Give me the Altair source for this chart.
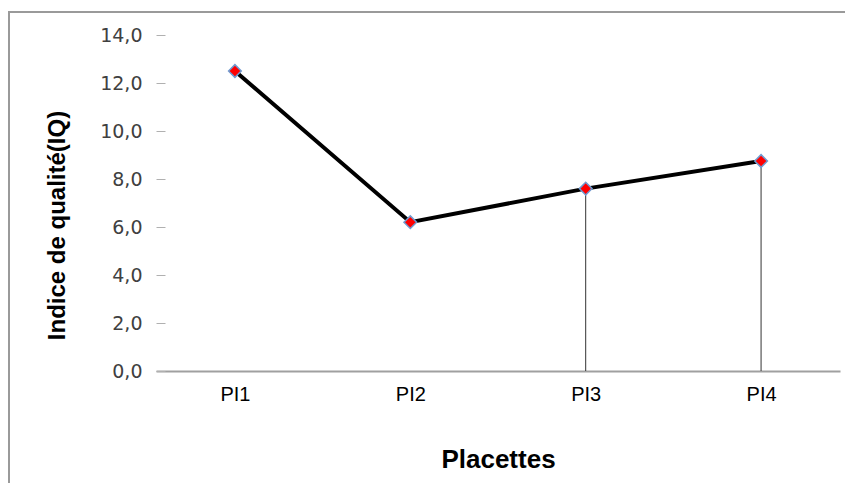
import altair as alt
import pandas as pd

categories = ["PI1", "PI2", "PI3", "PI4"]
values = [12.5, 6.2, 7.6, 8.75]
drop_categories = ["PI3", "PI4"]

df = pd.DataFrame({"cat": categories, "val": values})
df_drop = df[df["cat"].isin(drop_categories)]

FONT = "Liberation Sans"

x_enc = alt.X(
    "cat:N",
    sort=categories,
    scale=alt.Scale(type="point", padding=0.45),
    axis=alt.Axis(
        title="Placettes",
        titleFont=FONT,
        titleFontSize=26,
        titleFontWeight="bold",
        titleColor="#000000",
        titlePadding=42,
        labelFont=FONT,
        labelFontSize=20,
        labelColor="#000000",
        labelPadding=13,
        labelAngle=0,
        ticks=False,
        domainColor="#a0a0a0",
        domainWidth=2,
        grid=False,
    ),
)

y_scale = alt.Scale(domain=[0, 14], nice=False)
y_axis = alt.Axis(
    title="Indice de qualité(IQ)",
    titleFont=FONT,
    titleFontSize=24,
    titleFontWeight="bold",
    titleColor="#000000",
    titleAngle=-90,
    titleAlign="center",
    titleBaseline="middle",
    titleX=-108,
    titleY=190,
    values=[0, 2, 4, 6, 8, 10, 12, 14],
    labelExpr="replace(format(datum.value, '.1f'), '.', ',')",
    labelFont="DejaVu Sans",
    labelFontSize=19,
    labelColor="#404040",
    labelPadding=14,
    tickSize=9,
    tickColor="#b0b0b0",
    tickWidth=1,
    offset=-9,
    domain=False,
    grid=False,
)

border = alt.Chart(pd.DataFrame({"a": [0]})).mark_rect(
    fill=None, stroke="#9a9a9a", strokeWidth=2
).encode(
    x=alt.value(-147), x2=alt.value(720), y=alt.value(-23), y2=alt.value(470)
)

drops = alt.Chart(df_drop).mark_rule(color="#333333", strokeWidth=1).encode(
    x=x_enc,
    y=alt.Y("val:Q", scale=y_scale, axis=y_axis),
    y2=alt.datum(0),
)

line = alt.Chart(df).mark_line(color="#000000", strokeWidth=4).encode(
    x=x_enc,
    y=alt.Y("val:Q", scale=y_scale, axis=y_axis),
)

points = alt.Chart(df).mark_point(
    shape="diamond", filled=True, fill="#ff0000", stroke="#6f9ad0",
    strokeWidth=1.5, size=160, opacity=1
).encode(
    x=x_enc,
    y=alt.Y("val:Q", scale=y_scale, axis=y_axis),
)

chart = alt.layer(border, drops, line, points).properties(
    width=684,
    height=336,
    autosize=alt.AutoSizeParams(type="none"),
    padding={"left": 148, "top": 27, "right": 5, "bottom": 112},
    background="white",
).configure_view(stroke=None)

chart.save("out.html", embed_options={"renderer": "svg", "actions": False})
